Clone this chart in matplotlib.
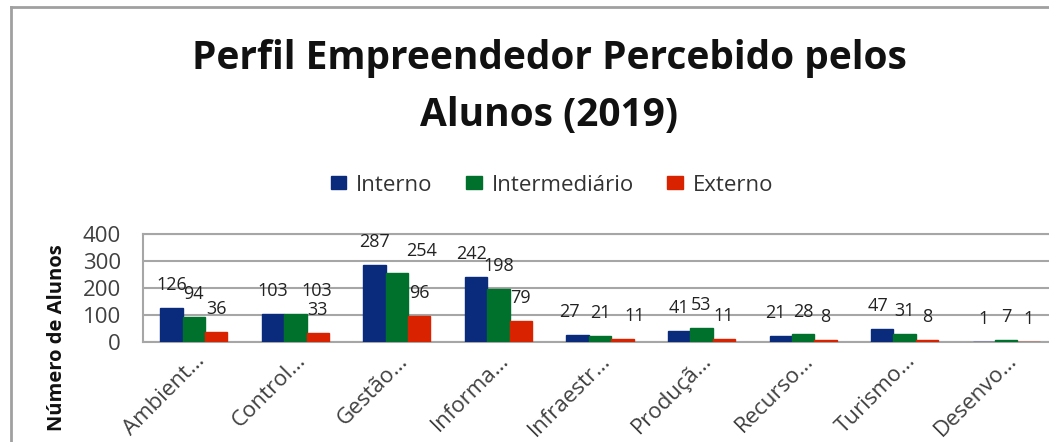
import matplotlib
matplotlib.use("Agg")
import matplotlib.pyplot as plt
from matplotlib.lines import Line2D
import numpy as np

cursos = ['Ambiente e Saúde', 'Controle e Processos', 'Gestão e Negócios',
          'Informação e Comunicação', 'Infraestrutura', 'Produção Alimentícia',
          'Recursos Naturais', 'Turismo e Hospitalidade', 'Desenvolvimento Educacional']
curtos = ['Ambient…', 'Control…', 'Gestão…', 'Informa…', 'Infraestr…',
          'Produçã…', 'Recurso…', 'Turismo…', 'Desenvo…']
interno = [126, 103, 287, 242, 27, 41, 21, 47, 1]
intermediario = [94, 103, 254, 198, 21, 53, 28, 31, 7]
externo = [36, 33, 96, 79, 11, 11, 8, 8, 1]

series = [('Interno', interno, '#0a2b7c'),
          ('Intermediário', intermediario, '#00712d'),
          ('Externo', externo, '#d92300')]

# pequenos deslocamentos horizontais dos rótulos (px), como o Excel fez
ajuste = {(1, 1): 21, (2, 1): 25, (3, 0): -5, (4, 0): -8, (4, 2): 12,
          (6, 0): -5, (7, 0): -4}

plt.rcParams['font.family'] = ['Open Sans', 'DejaVu Sans']

fig = plt.figure(figsize=(10.49, 4.42), dpi=100)
ax = fig.add_axes([143/1049, 100/442, 914/1049, 108/442])

x = np.arange(len(cursos))
w = 0.22
for i, (nome, vals, cor) in enumerate(series):
    pos = x + (i - 1) * w
    ax.bar(pos, vals, w, color=cor, edgecolor=cor, linewidth=1.0, label=nome,
           zorder=3)
    for j, (px, v) in enumerate(zip(pos, vals)):
        dx = ajuste.get((j, i), 0) * 0.72
        ax.annotate(str(v), (px, v), xytext=(dx, 16.5), textcoords='offset points',
                    ha='center', va='center', fontsize=13, color='#222222')

ax.set_xlim(-0.5, len(cursos) - 0.5)
ax.set_ylim(0, 400)
ax.set_yticks([0, 100, 200, 300, 400])
ax.yaxis.grid(True, color='#a6a6a6', linewidth=1.5)
ax.set_axisbelow(True)
for s in ax.spines.values():
    s.set_color('#a6a6a6')
    s.set_linewidth(1.5)
ax.tick_params(axis='y', length=0, pad=16, labelsize=16, labelcolor='#404040')
ax.set_xticks(x)
ax.set_xticklabels(curtos, rotation=45, ha='right', rotation_mode='anchor',
                   fontsize=16, color='#404040')
ax.tick_params(axis='x', length=0, pad=6)

fig.text(57/1049, 1 - 338/442, 'Número de Alunos', rotation=90, ha='center',
         va='center', fontsize=14.5, fontweight='bold', color='#111111')

fig.text(549/1049, 1 - 87/442, 'Perfil Empreendedor Percebido pelos\nAlunos (2019)',
         ha='center', va='center', fontsize=28, fontweight='bold',
         color='#111111', linespacing=1.58)

fig.legend(loc='center', bbox_to_anchor=(552/1049, 1 - 185/442), ncol=3,
           frameon=False, fontsize=16, handlelength=0.7, handleheight=0.55,
           columnspacing=1.5, handletextpad=0.45, labelcolor='#333333')

# borda do gráfico
fig.add_artist(Line2D([11/1049, 11/1049], [0, 1 - 7/442], color='#a0a0a0',
                      linewidth=2, transform=fig.transFigure))
fig.add_artist(Line2D([11/1049, 1], [1 - 7/442, 1 - 7/442], color='#a0a0a0',
                      linewidth=2, transform=fig.transFigure))

fig.savefig('out.png', dpi=100)
